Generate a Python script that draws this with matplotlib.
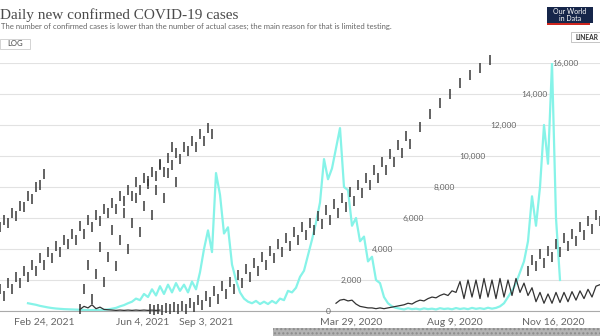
import numpy as np
import matplotlib.pyplot as plt
from matplotlib.patches import Rectangle
from matplotlib.transforms import blended_transform_factory

nan = np.nan

# daily new confirmed cases (cyan series), one value every 4 days
cyan_start = 28
cyan_cases = [500, 450, 400, 330, 280, 230, 190, 160, 140, 120, 110, 100, 90, 80,
              70, 60, 60, 60, 70, 80, 100, 150, 200, 300, 380, 500, 600,
              800, 700, 1100, 900, 1400, 1000, 1600, 1100, 1700, 1200, 1800, 1300,
              1700, 1200, 1900, 1400,
              2500, 4000, 5200, 3800, 8900, 7500, 5000, 5400, 3000, 2000, 1200, 800,
              600, 500, 650, 450, 600, 450, 650, 500, 800, 700, 1300, 1200,
              1500, 2200, 2600, 3600, 4600, 5700, 7000, 9800, 8500, 9200, 10500, 11800,
              8000, 7800, 5500, 6000, 4500, 4800, 3200, 3500, 2000, 1800, 900, 500,
              300, 200,
              150, 100, 180, 120, 150, 100, 170, 120, 150, 100, 180, 130, 160, 110,
              190, 130, 170, 120, 200, 140, 180, 130, 210, 150, 200,
              300, 500, 900, 1300, 1800, 2500, 3200, 4500, 7400, 5500, 8000, 12000,
              9500, 16000, 6000, 2000]

# black series (bottom part)
low_a_start = 80
low_a = [100, 300, 200, 400, 150, 250, 100, 80, 60, 40, 60, 40, 60, 40, 60, 40,
         60, 40, 60, 40, 60]
low_b_start = 336
low_b = [500, 700, 750, 650, 700, 450, 300, 250, 200, 200, 150, 200, 150, 200,
         250, 300, 350, 400, 500, 450, 600, 700, 650, 800, 900, 850, 1000, 1100,
         1000, 1300, 1200,
         1900, 800, 2000, 900, 2000, 800, 2100, 900, 2000, 800, 2100, 900, 2000,
         1000, 2100, 1200, 1800,
         1000, 1500, 600, 1200, 500, 1100, 500, 1200, 550, 1200, 600, 1250, 700,
         1300, 800, 1400, 900, 1600, 1700]

# shifted copies of the black series (drawn as short dashes)
band_u_start = 0
band_u = [5400, 5900, 5700, 6300, 6100, 6800, 6700, 7400, 7200, 8000, 8100, 8850]
band_l_start = 0
band_l = [1400, 1000, 1800, 1400, 2200, 1800, 2600, 2200, 3000, 2600, 3400, 3000,
          3800, 3400, 4200, 3800, 4600, 4300, 5000, 4600, 5500, 5000, 5900, 5400,
          6200, 5800, 6600, 6300, 7000, 6600, 7400, 7100, 7800, 7400, 8300, 7800,
          8600, 8200, 9000, 8700, 9400, 9000, 9900, 9400, 10200, 9800, 10600, 10300,
          11000, 10600, 11400, 11000, 11800, 11400]
band_m_start = 80
band_m = [100, 1400, 3000, 800, 2400, 4100, 1900, 3500, 5200, 2900, 4600, 6300,
          4000, 5700, 7300, 5100, 6800, 8400, 6200, 7800, 9500, 7300, 8900, 10600,
          8300]
band_r_start = 150
band_r = [100, 50, 150, 50, 200, 100, 250, 150, 300, 150, 500, 250, 700, 400,
          1000, 600, 1300, 800, 1600, 1100, 1900, 1400, 2300, 1800, 2700, 2200,
          3100, 2600, 3500, 3000, 3900, 3400, 4300, 3800, 4700, 4200, 5100, 4600,
          5400, 4900, 5700, 5200, 6100, 5600, 6500, 5900, 6900, 6300, 7300, 6700,
          7700, 7100, 8100, 7600, 8600, 8100, 9100, 8600, 9600, 9100, 10100, 9600,
          10700, 10200, 11300, 10800]
band_r2_start = 420
band_r2 = [11900, 12700, 13400, 14000, 14700, 15200, 15700, 16200]
band_br_start = 528
band_br = [2600, 3300, 2900, 3700, 3100, 3900, 3500, 4300, 3800, 4700, 4200, 5000,
           4500, 5400, 4900, 5800, 5300, 6200, 5800]

y_ticks = [0, 2000, 4000, 6000, 8000, 10000, 12000, 14000, 16000]
y_labels = ["0", "2,000", "4,000", "6,000", "8,000", "10,000", "12,000", "14,000", "16,000"]
x_tick_days = [44, 143, 206, 351, 455, 553]
x_tick_labels = ["Feb 24, 2021", "Jun 4, 2021", "Sep 3, 2021",
                 "Mar 29, 2020", "Aug 9, 2020", "Nov 16, 2020"]


def days(start, values, step=4):
    return start + step * np.arange(len(values))


plt.rcParams['font.family'] = ['Lato', 'DejaVu Sans']

W, H = 600, 336
fig = plt.figure(figsize=(6, 3.36), dpi=100)
ax = fig.add_axes([0, 25 / H, 1, 248 / H])
ax.set_xlim(0, 600)
ax.set_ylim(0, 16000)

ax.plot(days(cyan_start, cyan_cases), cyan_cases, color='#86f3e8', lw=1.6, zorder=2)

for start, vals in [(low_a_start, low_a), (low_b_start, low_b)]:
    ax.plot(days(start, vals), vals, color='#333333', lw=0.9, zorder=3)

dash = dict(ls='none', marker='|', ms=7.5, mew=1.1, color='#383838', zorder=3, clip_on=False)
ax.plot(days(band_u_start, band_u), band_u, **dash)
ax.plot(days(band_l_start, band_l), band_l, **dash)
ax.plot(days(band_m_start, band_m), band_m, **dash)
ax.plot(days(band_r_start, band_r), band_r, **dash)
ax.plot(days(band_r2_start, band_r2, 10), band_r2, **dash)
ax.plot(days(band_br_start, band_br), band_br, **dash)

ax.set_yticks(y_ticks)
ax.set_yticklabels([])
ax.grid(axis='y', color='#e2e2e2', lw=0.8, zorder=0)
ax.tick_params(axis='y', length=0)
for s in ['top', 'left', 'right']:
    ax.spines[s].set_visible(False)
ax.spines['bottom'].set_color('#aaaaaa')
ax.spines['bottom'].set_linewidth(0.8)

ax.set_xticks(x_tick_days)
ax.set_xticklabels(x_tick_labels, fontsize=7.5, color='#666666')
ax.tick_params(axis='x', length=0, pad=5)

# y labels sit on a slanted line in the reference
trans = blended_transform_factory(ax.transAxes, ax.transData)
for i, (v, lab) in enumerate(zip(y_ticks, y_labels)):
    ax.text((331 + 30.9 * i) / W, v, lab, transform=trans, ha='right', va='center',
            fontsize=6, color='#666666', zorder=4)

# header
fig.text(0, 1 - 15 / H, "Daily new confirmed COVID-19 cases", fontsize=11,
         family='Liberation Serif', color='#4a4a4a', va='center')
fig.text(1 / W, 1 - 26 / H,
         "The number of confirmed cases is lower than the number of actual cases; "
         "the main reason for that is limited testing.",
         fontsize=5.6, color='#666666', va='center')

fig.patches.append(Rectangle((0, 1 - 49 / H), 30 / W, 10 / H, transform=fig.transFigure,
                             fc='white', ec='#cccccc', lw=0.6))
fig.text(7 / W, 1 - 44 / H, "LOG", fontsize=5.5, color='#444444', va='center')

fig.patches.append(Rectangle((571 / W, 1 - 42 / H), 40 / W, 10 / H, transform=fig.transFigure,
                             fc='white', ec='#bbbbbb', lw=0.6))
fig.text(576 / W, 1 - 37 / H, "LINEAR", fontsize=4.8, weight='bold', color='#333333', va='center')

# logo
fig.patches.append(Rectangle((547 / W, 1 - 23 / H), 46 / W, 16 / H, transform=fig.transFigure,
                             fc='#16264a', ec='none'))
fig.patches.append(Rectangle((547 / W, 1 - 25 / H), 43 / W, 2 / H, transform=fig.transFigure,
                             fc='#ce261e', ec='none'))
fig.text(570 / W, 1 - 11.5 / H, "Our World", fontsize=5, color='white', ha='center', va='center')
fig.text(570 / W, 1 - 18.5 / H, "in Data", fontsize=5, color='white', ha='center', va='center')

# grey strip at the bottom
fig.patches.append(Rectangle((273 / W, 0), 327 / W, 8 / H, transform=fig.transFigure,
                             fc='#b3b3b3', ec='#8c8c8c', hatch='....', lw=0))

fig.savefig('out.png', dpi=100)
